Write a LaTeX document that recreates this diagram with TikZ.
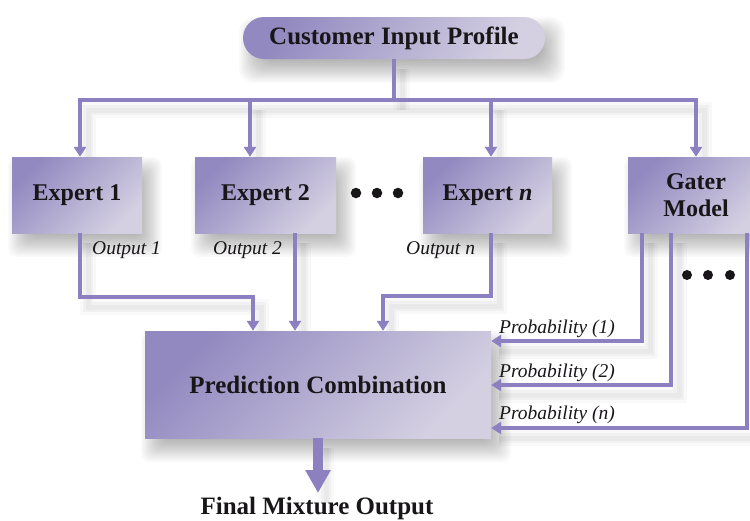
\documentclass[tikz,border=0pt]{standalone}
\usepackage{fontspec}
\setmainfont{Liberation Serif}
\usetikzlibrary{arrows.meta,calc,backgrounds}
\pgfdeclarelayer{bottom}
\pgfsetlayers{bottom,background,main}
\definecolor{lc}{RGB}{140,128,192}
\definecolor{bdark}{RGB}{146,137,192}
\definecolor{blight}{RGB}{212,208,226}
\definecolor{tx}{RGB}{25,22,25}
\newcommand\fbig{\fontsize{24}{27}\selectfont\bfseries}
\newcommand\flab{\fontsize{19.5}{22}\selectfont\itshape}
\newcommand\bshadow[2]{%
 \begin{scope}[on background layer]
 \foreach \k in {0,...,12}{%
  \fill[black,opacity=0.024,rounded corners=#2]
   ($(#1.north west)+(8-\k*1.8+10, 12-\k*1.8+10)$) rectangle ($(#1.south east)+(8+\k*1.8-10,12+\k*1.8-10)$);
 }
 \end{scope}}
\newcommand\conn[2]{%
 \begin{scope}[on background layer,line cap=round,line join=round]
  \draw[black,opacity=0.025,line width=16pt,transform canvas={xshift=8pt,yshift=-10pt}] #2;
  \draw[black,opacity=0.03,line width=10pt,transform canvas={xshift=8pt,yshift=-10pt}] #2;
  \draw[black,opacity=0.03,line width=5pt,transform canvas={xshift=8pt,yshift=-10pt}] #2;
 \end{scope}
 \draw[line,#1] #2;}
\tikzset{
 box/.style={draw=none,inner sep=0pt,top color=bdark,bottom color=blight,shading angle=45,text=tx,font=\fbig,align=center},
 line/.style={draw=lc,line width=4pt},
 tipped/.style={-{Triangle[width=12pt,length=10pt]}},
 lab/.style={text=tx,font=\flab,inner sep=0pt,anchor=base west},
 bdot/.style={circle,fill=tx,inner sep=0pt,minimum size=10.5pt}
}
\begin{document}
\begin{tikzpicture}[x=1pt,y=-1pt]
\useasboundingbox (0,0) rectangle (750,520);
\clip (0,0) rectangle (750,520);
\begin{pgfonlayer}{bottom}
\fill[white] (0,0) rectangle (750,520);
\end{pgfonlayer}
% nodes
\node[box,rounded corners=21pt,minimum width=302pt,minimum height=42pt,font=\fontsize{25}{28}\selectfont\bfseries,shading angle=60] (cip) at (394,38) {Customer Input Profile};
\node[box,minimum width=130pt,minimum height=76pt] (e1) at (77,195) {Expert 1};
\node[box,minimum width=141pt,minimum height=76pt] (e2) at (265.5,195) {Expert 2};
\node[box,minimum width=129pt,minimum height=76pt] (en) at (487.5,195) {Expert \textit{n}};
\node[box,minimum width=136pt,minimum height=76pt,font=\fontsize{24}{27}\selectfont\bfseries] (gm) at (696,195) {Gater\\Model};
\node[box,minimum width=346pt,minimum height=107pt,font=\fontsize{25}{28}\selectfont\bfseries] (pc) at (318,384.5) {Prediction Combination};
\node[text=tx,font=\fontsize{25}{28}\selectfont\bfseries,inner sep=0pt,anchor=base] (fo) at (317,514) {Final Mixture Output};
% shadows
\bshadow{cip}{14pt}
\bshadow{e1}{8pt}
\bshadow{e2}{8pt}
\bshadow{en}{8pt}
\bshadow{gm}{8pt}
\bshadow{pc}{8pt}
% dots
\node[bdot] (da1) at (356,193) {};
\node[bdot] (da2) at (377,193) {};
\node[bdot] (da3) at (398,193) {};
\node[bdot,minimum size=10pt] (db1) at (687,275) {};
\node[bdot,minimum size=10pt] (db2) at (708,275) {};
\node[bdot,minimum size=10pt] (db3) at (730,275) {};
% coordinates
\coordinate (bar) at (394,100);
\coordinate (b1) at (80,100);
\coordinate (b2) at (250,100);
\coordinate (bn) at (491,100);
\coordinate (bg) at (696,100);
\coordinate (k1) at (80,297);
\coordinate (i1) at (253,297);
\coordinate (i2) at (295,297);
\coordinate (kn) at (491,296);
\coordinate (in) at (383,296);
\coordinate (g1) at (642,341);
\coordinate (g2) at (671,385);
\coordinate (gn) at (747,428);
\coordinate (ft) at (318,493);
% connectors
\conn{}{(cip.south) -- (bar)}
\conn{{Triangle[width=12pt,length=10pt]}-{Triangle[width=12pt,length=10pt]}}{(b1 |- e1.north) -- (b1) -- (bg) -- (bg |- gm.north)}
\conn{tipped}{(b2) -- (b2 |- e2.north)}
\conn{tipped}{(bn) -- (bn |- en.north)}
\conn{tipped}{(k1 |- e1.south) -- (k1) -- (i1) -- (i1 |- pc.north)}
\conn{tipped}{(i2 |- e2.south) -- (i2 |- pc.north)}
\conn{tipped}{(kn |- en.south) -- (kn) -- (in) -- (in |- pc.north)}
\conn{tipped}{(g1 |- gm.south) -- (g1) -- (g1 -| pc.east)}
\conn{tipped}{(g2 |- gm.south) -- (g2) -- (g2 -| pc.east)}
\conn{tipped}{(gn |- gm.south) -- (gn) -- (gn -| pc.east)}
\conn{line width=10pt,-{Triangle[width=24pt,length=23pt]}}{(pc.south) -- (ft)}
% labels
\node[lab] (lo1) at (92,254) {Output 1};
\node[lab] (lo2) at (213,254) {Output 2};
\node[lab] (lon) at (406,254) {Output \textit{n}};
\node[lab] (lp1) at (499,333) {Probability (1)};
\node[lab] (lp2) at (499,377) {Probability (2)};
\node[lab] (lpn) at (499,419) {Probability (\textit{n})};
\end{tikzpicture}
\end{document}
